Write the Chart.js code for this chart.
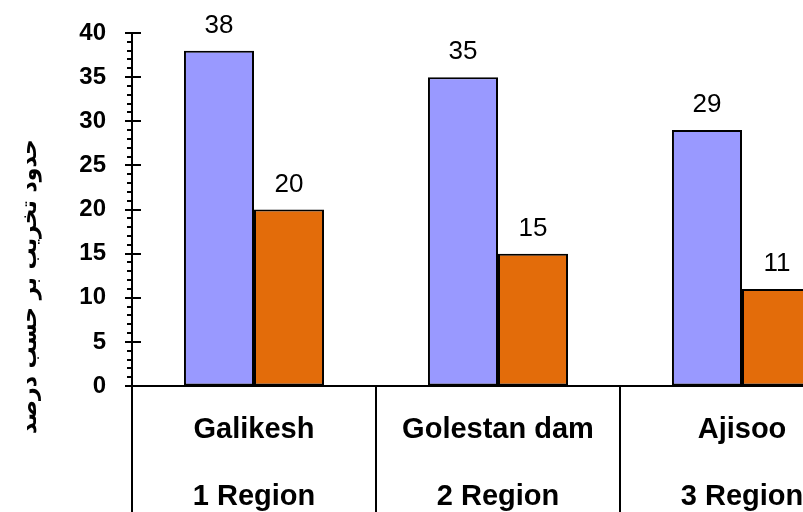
<!DOCTYPE html>
<html>
<head>
<meta charset="utf-8">
<script src="https://cdn.jsdelivr.net/npm/chart.js@4.4.1/dist/chart.umd.min.js"></script>
<style>
  html, body { margin: 0; padding: 0; background: #fff; overflow: hidden; }
  #wrap { width: 870px; height: 540px; }
</style>
</head>
<body>
<div id="wrap"><canvas id="chart" width="870" height="540"></canvas></div>
<script>
(function () {
  'use strict';

  var regionNames = ['Galikesh', 'Golestan dam', 'Ajisoo'];
  var regionLabels = ['1 Region', '2 Region', '3 Region'];
  var seriesBlue = [38, 35, 29];
  var seriesOrange = [20, 15, 11];
  var yTitle = 'حدود تخریب بر حسب درصد';

  // y axis ticks: long ones every 5, short ones every 1
  var axisTicks = {
    id: 'axisTicks',
    afterDraw: function (chart) {
      var y = chart.scales.y;
      var ctx = chart.ctx;
      var left = chart.chartArea.left;
      ctx.save();
      ctx.strokeStyle = '#000';
      ctx.lineWidth = 2;
      for (var v = y.min; v <= y.max; v++) {
        var py = Math.round(y.getPixelForValue(v));
        ctx.beginPath();
        if (v % 5 === 0) {
          ctx.moveTo(left - 7, py);
          ctx.lineTo(left + 9, py);
        } else {
          ctx.moveTo(left - 5, py);
          ctx.lineTo(left, py);
        }
        ctx.stroke();
      }
      ctx.restore();
    }
  };

  var valueLabels = {
    id: 'valueLabels',
    afterDatasetsDraw: function (chart) {
      var ctx = chart.ctx;
      ctx.save();
      ctx.font = '26px "Liberation Sans", Arial, sans-serif';
      ctx.fillStyle = '#000';
      ctx.textAlign = 'center';
      ctx.textBaseline = 'bottom';
      chart.data.datasets.forEach(function (ds, i) {
        chart.getDatasetMeta(i).data.forEach(function (bar, j) {
          ctx.fillText(String(ds.data[j]), bar.x, bar.y - 12);
        });
      });
      ctx.restore();
    }
  };

  var sideTitle = {
    id: 'sideTitle',
    afterDraw: function (chart) {
      var ctx = chart.ctx;
      var cy = (chart.chartArea.top + chart.height) / 2;
      ctx.save();
      ctx.translate(30, cy);
      ctx.rotate(-Math.PI / 2);
      ctx.font = 'bold 22px "DejaVu Sans", sans-serif';
      ctx.fillStyle = '#000';
      ctx.textAlign = 'center';
      ctx.textBaseline = 'middle';
      ctx.fillText(yTitle, 0, 0);
      ctx.restore();
    }
  };

  function noPad(s) {
    s.paddingTop = 0;
    s.paddingBottom = 0;
    s.paddingLeft = 0;
    s.paddingRight = 0;
  }

  new Chart(document.getElementById('chart').getContext('2d'), {
    type: 'bar',
    data: {
      labels: regionNames.map(function (n, i) {
        return [n, regionLabels[i]];
      }),
      datasets: [
        {
          label: 'A',
          data: seriesBlue,
          backgroundColor: '#9999ff',
          borderColor: '#000',
          borderWidth: 2,
          borderSkipped: false
        },
        {
          label: 'B',
          data: seriesOrange,
          backgroundColor: '#e36c0a',
          borderColor: '#000',
          borderWidth: 2,
          borderSkipped: false
        }
      ]
    },
    options: {
      responsive: false,
      animation: false,
      layout: { padding: { top: 33, right: 6, left: 0, bottom: 0 } },
      plugins: { legend: { display: false }, tooltip: { enabled: false } },
      datasets: { bar: { barPercentage: 1, categoryPercentage: 0.574 } },
      scales: {
        x: {
          offset: true,
          grid: {
            offset: true,
            drawOnChartArea: false,
            color: '#000',
            lineWidth: 2,
            tickLength: 154
          },
          border: { color: '#000', width: 2 },
          ticks: {
            autoSkip: false,
            maxRotation: 0,
            padding: -143,
            color: '#000',
            font: { family: '"Liberation Sans", Arial, sans-serif', size: 29, weight: 'bold', lineHeight: 2.3 }
          },
          afterFit: function (s) { s.height = 154; noPad(s); }
        },
        y: {
          min: 0,
          max: 40,
          ticks: {
            stepSize: 5,
            padding: 26,
            color: '#000',
            font: { family: '"Liberation Sans", Arial, sans-serif', size: 24, weight: 'bold' }
          },
          grid: { drawOnChartArea: false, drawTicks: false },
          border: { color: '#000', width: 2 },
          afterFit: function (s) { s.width = 132; noPad(s); }
        }
      }
    },
    plugins: [axisTicks, valueLabels, sideTitle]
  });
})();
</script>
</body>
</html>
